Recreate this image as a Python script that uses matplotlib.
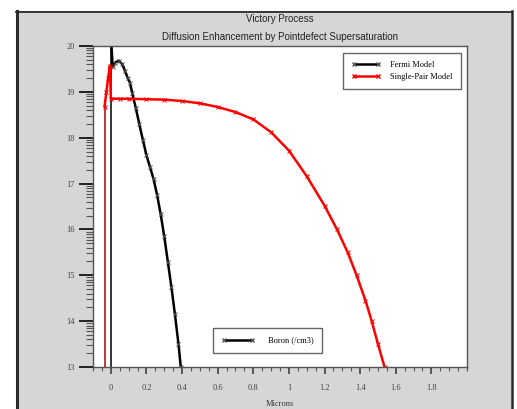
import matplotlib
matplotlib.use("Agg")
import matplotlib.pyplot as plt
from matplotlib.lines import Line2D
from matplotlib.patches import Rectangle
import numpy as np

# Boron profiles, log10 concentration (/cm3) vs depth (microns)
fermi_x = [0.0, 0.0, 0.01, 0.025, 0.045, 0.065, 0.08, 0.095, 0.107, 0.12, 0.14,
           0.16, 0.18, 0.2, 0.22, 0.24, 0.26, 0.28, 0.3, 0.32, 0.34, 0.36,
           0.38, 0.393]
fermi_y = [12.0, 20.3, 19.55, 19.64, 19.68, 19.6, 19.45, 19.3, 19.2, 18.98,
           18.65, 18.3, 17.95, 17.62, 17.36, 17.1, 16.75, 16.33, 15.85, 15.3,
           14.75, 14.15, 13.5, 13.0]

pair_x = [-0.035, -0.035, -0.025, -0.015, -0.005, 0.0, 0.05, 0.1, 0.2, 0.3,
          0.4, 0.5, 0.6, 0.7, 0.8, 0.9, 1.0, 1.1, 1.2, 1.27, 1.33, 1.38, 1.43,
          1.465, 1.5, 1.537]
pair_y = [12.0, 18.68, 19.0, 19.3, 19.57, 18.85, 18.85, 18.85, 18.84, 18.83,
          18.8, 18.75, 18.67, 18.56, 18.4, 18.12, 17.72, 17.16, 16.52, 16.0,
          15.5, 15.0, 14.45, 14.0, 13.5, 13.0]

x_ticks = [0, 0.2, 0.4, 0.6, 0.8, 1.0, 1.2, 1.4, 1.6, 1.8]
x_labels = ["0", "0.2", "0.4", "0.6", "0.8", "1", "1.2", "1.4", "1.6", "1.8"]
y_ticks = [13, 14, 15, 16, 17, 18, 19, 20]

serif = ["Liberation Serif", "DejaVu Serif"]
sans = ["Liberation Sans", "DejaVu Sans"]

fig = plt.figure(figsize=(5.17, 4.09), dpi=100)
fig.patch.set_facecolor("white")

# grey panel with dark frame
W, H = 517.0, 409.0
fig.patches.append(Rectangle((16 / W, -0.1), (512 - 16) / W, 1.1 - 11 / H,
                             transform=fig.transFigure, facecolor="#d6d6d6",
                             edgecolor="none", zorder=-10))
fig.add_artist(Line2D([17 / W, 17 / W], [-0.1, 1 - 11 / H], color="#2a2a2a", lw=2.2,
                      transform=fig.transFigure))
fig.add_artist(Line2D([16 / W, 512 / W], [1 - 11.5 / H, 1 - 11.5 / H], color="#2a2a2a",
                      lw=1.3, transform=fig.transFigure))
fig.add_artist(Line2D([512 / W, 512 / W], [-0.1, 1 - 11 / H], color="#2a2a2a", lw=1.8,
                      transform=fig.transFigure))

ax = fig.add_axes([93 / W, 1 - 367 / H, (467 - 93) / W, (367 - 46) / H])
ax.set_facecolor("white")

# surface edges (thin verticals), then the profiles
ax.plot(fermi_x[:2], fermi_y[:2], color="black", lw=1.1)
ax.plot(pair_x[:2], pair_y[:2], color="#b00000", lw=1.1)
ax.plot(fermi_x[1:], fermi_y[1:], color="black", lw=1.8, marker="x", ms=3,
        mec="#555555", mew=0.7)
ax.plot(pair_x[1:], pair_y[1:], color="red", lw=1.8, marker="x", ms=3,
        mec="red", mew=0.7)

ax.set_xlim(-0.1, 2.0)
ax.set_ylim(13, 20)

ax.set_xticks(x_ticks)
ax.set_xticklabels(x_labels, family=serif, fontsize=6, color="#444444")
ax.set_xticks(np.arange(-0.1, 2.001, 0.05), minor=True)
ax.set_yticks(y_ticks)
ax.set_yticklabels([str(v) for v in y_ticks], family=serif, fontsize=6,
                   color="#444444")
ax.set_yticks([n + np.log10(k) for n in range(13, 20) for k in range(2, 10)],
              minor=True)

ax.tick_params(axis="x", which="major", direction="out", length=5, width=1.1,
               pad=7, color="#333333")
ax.tick_params(axis="x", which="minor", direction="out", length=3, width=0.8,
               color="#555555")
ax.tick_params(axis="y", which="major", direction="out", length=10, width=1.4,
               pad=3, color="#222222")
ax.tick_params(axis="y", which="minor", direction="out", length=5, width=0.8,
               color="#555555")
for s in ax.spines.values():
    s.set_color("#555555")
    s.set_linewidth(1.0)

ax.set_xlabel("Microns", family=serif, fontsize=6, color="#333333", labelpad=6)

fig.text(280 / W, 1 - 19 / H, "Victory Process", ha="center", va="center",
         family=sans, fontsize=7, color="#222222")
fig.text(280 / W, 1 - 37 / H, "Diffusion Enhancement by Pointdefect Supersaturation",
         ha="center", va="center", family=sans, fontsize=7, color="#222222")

h1 = Line2D([], [], color="black", lw=1.8, marker="x", ms=3, mec="#555555")
h2 = Line2D([], [], color="red", lw=1.8, marker="x", ms=3, mec="red")
leg1 = ax.legend([h1, h2], ["Fermi Model", "Single-Pair Model"], loc="upper right",
                 bbox_to_anchor=(0.984, 0.978), borderaxespad=0, numpoints=2,
                 fancybox=False, framealpha=1, edgecolor="#666666",
                 prop={"family": serif, "size": 6}, handlelength=3.5,
                 borderpad=1.0, labelspacing=0.4, handletextpad=1.2)
leg1.get_frame().set_linewidth(1.0)
ax.add_artist(leg1)

h3 = Line2D([], [], color="black", lw=1.8, marker="x", ms=3, mec="#555555")
leg2 = ax.legend([h3], ["Boron (/cm3)"], loc="lower left",
                 bbox_to_anchor=(0.321, 0.0436), borderaxespad=0, numpoints=2,
                 fancybox=False, framealpha=1, edgecolor="#666666",
                 prop={"family": serif, "size": 6}, handlelength=4,
                 borderpad=1.0, handletextpad=1.6)
leg2.get_frame().set_linewidth(1.0)

fig.savefig("out.png", dpi=100)
